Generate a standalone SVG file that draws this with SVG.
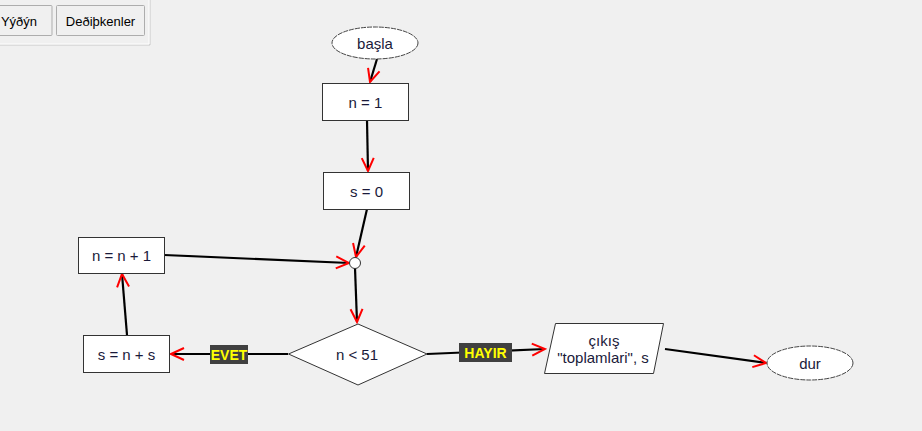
<svg xmlns="http://www.w3.org/2000/svg" width="922" height="431" viewBox="0 0 922 431">
<defs>
<style>
.bg{fill:#f0f0f0}
.box{fill:#fff;stroke:#333;stroke-width:1}
.term{fill:#fff;stroke:#444;stroke-width:1;stroke-dasharray:5 1}
.t{font-family:"Liberation Sans",Arial,sans-serif;font-size:15px;fill:#1a1a3a;text-anchor:middle;dominant-baseline:central}
.btn{fill:#f0f0f0;stroke:#adadad;stroke-width:1}
.bt{font-family:"Liberation Sans",Arial,sans-serif;font-size:13px;fill:#000;text-anchor:middle;dominant-baseline:central}
.edge{fill:none;stroke:#000;stroke-width:2.2}
.lblbg{fill:#404040}
.lbl{font-family:"Liberation Sans",Arial,sans-serif;font-size:14px;font-weight:bold;fill:#ffff00;text-anchor:middle;dominant-baseline:central}
</style>
<marker id="arr" viewBox="-14 -8 16 16" refX="0" refY="0" markerWidth="16" markerHeight="16" markerUnits="userSpaceOnUse" orient="auto">
<path d="M-13,-6 L0,0 L-13,6" fill="none" stroke="#ff0000" stroke-width="2"/>
</marker>
</defs>
<rect class="bg" x="0" y="0" width="922" height="431"/>
<g id="toolbar">
<path d="M0,45 H150 V0" fill="none" stroke="#c8c8c8" stroke-width="1"/>
<path d="M0,44 H149 V0" fill="none" stroke="#ffffff" stroke-width="1"/>
<rect class="btn" x="-5" y="5.5" width="57" height="30" rx="1"/>
<text class="bt" x="19" y="21">Yýðýn</text>
<rect class="btn" x="56.5" y="5.5" width="88" height="30" rx="1"/>
<text class="bt" x="100.5" y="21">Deðiþkenler</text>
</g>
<g id="connectors">
<path class="edge" d="M377,59 L370,82" marker-end="url(#arr)"/>
<path class="edge" d="M367,120 L368,171" marker-end="url(#arr)"/>
<path class="edge" d="M367,209 L356,257" marker-end="url(#arr)"/>
<path class="edge" d="M164,255 L349,263" marker-end="url(#arr)"/>
<path class="edge" d="M355,268 L357,322" marker-end="url(#arr)"/>
<path class="edge" d="M288,354 L171,354" marker-end="url(#arr)"/>
<path class="edge" d="M127,335 L122,274" marker-end="url(#arr)"/>
<path class="edge" d="M427,354 L545,349" marker-end="url(#arr)"/>
<path class="edge" d="M665,349 L766,363" marker-end="url(#arr)"/>
<g id="lbl-evet"><rect class="lblbg" x="210" y="345" width="38" height="19"/><text class="lbl" x="229" y="355">EVET</text></g>
<g id="lbl-hayir"><rect class="lblbg" x="459" y="343" width="53" height="19"/><text class="lbl" x="485.5" y="353">HAYIR</text></g>
</g>
<g id="basla"><ellipse class="term" cx="375" cy="43" rx="43" ry="16"/><text class="t" x="375" y="43">başla</text></g>
<g id="n1"><rect class="box" x="322.5" y="83.5" width="86" height="37"/><text class="t" x="365.5" y="102">n = 1</text></g>
<g id="s0"><rect class="box" x="323.5" y="172.5" width="86" height="37"/><text class="t" x="366.5" y="191">s = 0</text></g>
<g id="junction"><circle cx="355" cy="263" r="5.5" fill="#fff" stroke="#333" stroke-width="1"/></g>
<g id="nn1"><rect class="box" x="78.5" y="237.5" width="86" height="36"/><text class="t" x="121.5" y="255.5">n = n + 1</text></g>
<g id="sns"><rect class="box" x="83.5" y="335.5" width="86" height="37"/><text class="t" x="126.5" y="354">s = n + s</text></g>
<g id="cond"><polygon class="box" points="288.5,354 358,324 427,354 358,385"/><text class="t" x="357" y="354">n &lt; 51</text></g>
<g id="out"><polygon class="box" points="555.5,323.5 663.5,323.5 653.5,373.5 544.5,373.5"/><text class="t" x="604" y="340">çıkış</text><text class="t" x="603" y="357">"toplamlari", s</text></g>
<g id="dur"><ellipse class="term" cx="810" cy="363" rx="43" ry="17"/><text class="t" x="810" y="363">dur</text></g>
</svg>
